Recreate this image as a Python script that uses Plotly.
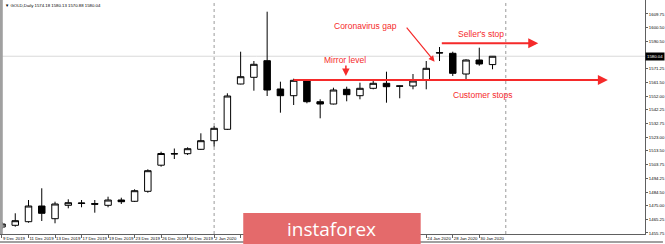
import plotly.graph_objects as go

# ---------------- data ----------------
dates = ["9 Dec 2019","10 Dec 2019","11 Dec 2019","12 Dec 2019","13 Dec 2019","16 Dec 2019",
         "17 Dec 2019","18 Dec 2019","19 Dec 2019","20 Dec 2019","23 Dec 2019","24 Dec 2019",
         "26 Dec 2019","27 Dec 2019","30 Dec 2019","31 Dec 2019","2 Jan 2020","3 Jan 2020",
         "6 Jan 2020","7 Jan 2020","8 Jan 2020","9 Jan 2020","10 Jan 2020","13 Jan 2020",
         "14 Jan 2020","15 Jan 2020","16 Jan 2020","17 Jan 2020","20 Jan 2020","21 Jan 2020",
         "22 Jan 2020","23 Jan 2020","24 Jan 2020","27 Jan 2020","28 Jan 2020","29 Jan 2020",
         "30 Jan 2020","31 Jan 2020"]
opens = [1459.96,1461.16,1463.69,1474.73,1465.80,1475.22,1476.50,1476.40,1475.22,1478.95,
         1478.04,1485.07,1503.42,1511.30,1511.51,1514.60,1520.65,1528.67,1560.52,1565.23,
         1576.91,1557.01,1552.29,1562.63,1548.07,1546.46,1556.79,1552.29,1557.50,1561.01,
         1559.20,1559.12,1563.33,1582.30,1582.11,1567.55,1577.40,1574.18]
highs = [1463.49,1469.60,1478.95,1487.18,1477.75,1479.44,1478.95,1478.95,1481.27,1480.57,
         1486.47,1500.54,1512.92,1515.16,1516.01,1525.85,1530.99,1553.98,1583.23,1576.69,
         1611.36,1562.14,1564.25,1562.80,1549.76,1557.92,1558.62,1561.44,1562.63,1569.17,
         1559.30,1567.55,1576.69,1586.54,1583.23,1577.89,1586.05,1580.13]
lows = [1458.56,1460.18,1462.99,1464.18,1462.57,1473.11,1473.82,1470.02,1473.82,1476.14,
        1477.54,1484.08,1502.37,1507.78,1510.59,1514.11,1516.43,1528.17,1560.30,1555.81,
        1552.08,1540.34,1545.75,1546.95,1536.40,1546.20,1548.36,1549.76,1556.79,1547.37,
        1550.47,1556.79,1556.79,1576.69,1566.15,1563.83,1573.39,1570.88]
closes = [1462.07,1464.39,1474.73,1469.59,1476.14,1477.05,1476.80,1476.00,1478.95,1477.75,
          1485.49,1499.55,1511.65,1511.50,1515.03,1520.65,1529.37,1552.08,1565.65,1574.37,
          1556.30,1552.29,1563.12,1548.07,1546.46,1556.30,1553.00,1557.50,1561.01,1558.62,
          1559.00,1562.63,1571.56,1582.50,1568.04,1577.40,1574.60,1580.04]

y_ticks = [1609.75,1600.50,1590.50,1571.25,1561.50,1552.00,1542.25,1532.75,1523.00,
           1513.50,1503.75,1494.25,1484.50,1475.00,1465.25,1455.75]
separators = [16, 38]           # first bar of Jan and Feb
hidden_by_logo = range(18, 31)  # date labels covered by the watermark in the original
last_price = 1580.04
seller_stop = 1589.14
mirror_level = 1563.33
header = "GOLD,Daily 1574.18 1580.13 1570.88 1580.04"

x = list(range(len(dates)))
tick_pos = x[::2]
tick_txt = ["" if i in hidden_by_logo else dates[i] for i in tick_pos]

RED = "#f52a2a"

fig = go.Figure()
fig.add_trace(go.Candlestick(
    x=x, open=opens, high=highs, low=lows, close=closes,
    increasing=dict(line=dict(color="black", width=1), fillcolor="white"),
    decreasing=dict(line=dict(color="black", width=1), fillcolor="black"),
    whiskerwidth=0, hoverinfo="skip", showlegend=False))

shapes = []
shapes.append(dict(type="line", xref="paper", x0=0, x1=1, yref="y", y0=last_price, y1=last_price,
                   line=dict(color="#d9d9d9", width=1), layer="below"))
for s in separators:
    shapes.append(dict(type="line", xref="x", x0=s, x1=s, yref="paper", y0=0, y1=1,
                       line=dict(color="#9a9a9a", width=1, dash="dot"), layer="below"))
shapes.append(dict(type="line", xref="paper", x0=0.002, x1=0.002, yref="paper", y0=0, y1=1,
                   line=dict(color="#a0a0a0", width=3)))
shapes.append(dict(type="line", xref="paper", x0=0, x1=665/647, yref="paper", y0=-8/234, y1=-8/234,
                   line=dict(color="#a0a0a0", width=2)))
shapes.append(dict(type="rect", xref="paper", yref="paper",
                   x0=244/647, x1=422/647, y0=-10/234, y1=21/234,
                   fillcolor="#e46a6b", line=dict(width=0), layer="above"))

annotations = []
annotations.append(dict(x=45.7, y=mirror_level, ax=21.88, ay=mirror_level, xref="x", yref="y",
                        axref="x", ayref="y", text="", showarrow=True, arrowhead=2,
                        arrowsize=1, arrowwidth=2, arrowcolor=RED))
annotations.append(dict(x=40.45, y=seller_stop, ax=33.06, ay=seller_stop, xref="x", yref="y",
                        axref="x", ayref="y", text="", showarrow=True, arrowhead=2,
                        arrowsize=1, arrowwidth=2, arrowcolor=RED))
annotations.append(dict(x=32.63, y=1576.2, ax=30.43, ay=1601.3, xref="x", yref="y",
                        axref="x", ayref="y", text="", showarrow=True, arrowhead=2,
                        arrowsize=1, arrowwidth=1.2, arrowcolor=RED))
annotations.append(dict(x=25.94, y=1566.2, ax=25.94, ay=1574.6, xref="x", yref="y",
                        axref="x", ayref="y", text="", showarrow=True, arrowhead=2,
                        arrowsize=1, arrowwidth=1.5, arrowcolor=RED))
tfont = dict(family="Liberation Sans, Arial", size=8.5, color=RED)
for txt, xx, yy in [("Coronavirus gap", 27.44, 1601.5), ("Seller's stop", 36.13, 1595.5),
                    ("Mirror level", 25.9, 1577.4), ("Customer stops", 36.3, 1552.8)]:
    annotations.append(dict(x=xx, y=yy, xref="x", yref="y", text=txt, showarrow=False,
                            font=tfont, xanchor="center", yanchor="middle"))
annotations.append(dict(x=3/647, y=1 - 5/234, xref="paper", yref="paper", text="▼ " + header,
                        showarrow=False, font=dict(family="Liberation Sans", size=4.3, color="black"),
                        xanchor="left", yanchor="middle"))
annotations.append(dict(x=1, y=last_price, xref="paper", yref="y", text=f"{last_price:.2f}",
                        showarrow=False, xanchor="left", yanchor="middle", bgcolor="black",
                        font=dict(family="Liberation Sans", size=4.3, color="white"), borderpad=1))
annotations.append(dict(x=333/647, y=(234 - 228.5) / 234, xref="paper", yref="paper",
                        text="instaforex", showarrow=False, xanchor="center", yanchor="middle",
                        font=dict(family="Open Sans", size=19, color="white")))

fig.update_layout(
    width=665, height=244, margin=dict(l=0, r=18, t=0, b=10),
    paper_bgcolor="white", plot_bgcolor="white",
    shapes=shapes, annotations=annotations, showlegend=False,
    xaxis=dict(range=[-0.15, 48.5], rangeslider=dict(visible=False), showgrid=False, zeroline=False,
               tickvals=tick_pos, ticktext=tick_txt, ticks="outside", ticklen=3, tickcolor="#606060",
               ticklabelposition="outside right", tickangle=0,
               tickfont=dict(family="Liberation Sans", size=4.3, color="black"),
               showline=True, linecolor="#606060", linewidth=1, mirror=False, fixedrange=True),
    yaxis=dict(range=[1455.04, 1619.59], side="right", showgrid=False, zeroline=False,
               tickvals=y_ticks, tickformat=".2f", ticks="outside", ticklen=2, tickcolor="#606060",
               tickfont=dict(family="Liberation Sans", size=4.3, color="black"),
               showline=True, linecolor="#606060", linewidth=1, fixedrange=True),
)

fig.write_html("out.html")
